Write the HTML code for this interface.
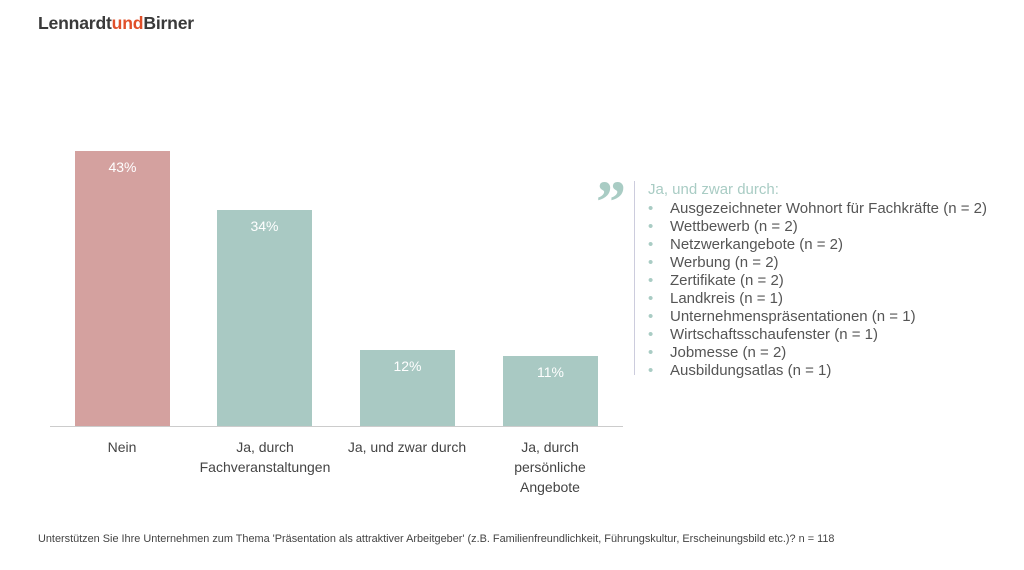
<!DOCTYPE html>
<html><head><meta charset="utf-8"><style>
body{margin:0;width:1024px;height:570px;background:#fff;position:relative;overflow:hidden;font-family:"Liberation Sans",sans-serif;color:#444}
.a{position:absolute}
.bar{position:absolute;width:95px}
.v{position:absolute;width:95px;text-align:center;color:#fff;font-size:14px}
.c{position:absolute;text-align:center;font-size:14px;line-height:20px;color:#444;width:160px}
.li{position:absolute;left:648px;font-size:15px;line-height:18px;color:#555}
.li b{font-weight:normal;color:#a9ccc4;display:inline-block;width:22px}
</style></head><body>
<div class="a" style="left:38px;top:13px;font-size:17.6px;font-weight:bold;color:#3a3a3a;letter-spacing:-0.2px">Lennardt<span style="color:#e0502a">und</span>Birner</div>

<div class="bar" style="left:75px;top:151px;height:276px;background:#d4a19f"></div>
<div class="bar" style="left:217px;top:210px;height:217px;background:#a9c9c3"></div>
<div class="bar" style="left:360px;top:350px;height:77px;background:#a9c9c3"></div>
<div class="bar" style="left:503px;top:356px;height:71px;background:#a9c9c3"></div>
<div class="a" style="left:50px;top:426px;width:573px;height:1px;background:#ccc"></div>

<div class="v" style="left:75px;top:159px">43%</div>
<div class="v" style="left:217px;top:218px">34%</div>
<div class="v" style="left:360px;top:358px">12%</div>
<div class="v" style="left:503px;top:364px">11%</div>

<div class="c" style="left:42px;top:437px">Nein</div>
<div class="c" style="left:185px;top:437px">Ja, durch<br>Fachveranstaltungen</div>
<div class="c" style="left:327px;top:437px">Ja, und zwar durch</div>
<div class="c" style="left:470px;top:437px">Ja, durch<br>persönliche<br>Angebote</div>

<div class="a" style="left:596px;top:172px;font-size:60px;font-weight:bold;color:#a9ccc4;font-family:'Liberation Serif',serif;line-height:60px">”</div>
<div class="a" style="left:634px;top:181px;width:1px;height:194px;background:#ccd"></div>
<div class="a" style="left:648px;top:181px;font-size:15px;line-height:18px;color:#a9ccc4">Ja, und zwar durch:</div>
<div class="li" style="top:200px"><b>•</b>Ausgezeichneter Wohnort für Fachkräfte (n = 2)</div>
<div class="li" style="top:218px"><b>•</b>Wettbewerb (n = 2)</div>
<div class="li" style="top:236px"><b>•</b>Netzwerkangebote (n = 2)</div>
<div class="li" style="top:254px"><b>•</b>Werbung (n = 2)</div>
<div class="li" style="top:272px"><b>•</b>Zertifikate (n = 2)</div>
<div class="li" style="top:290px"><b>•</b>Landkreis (n = 1)</div>
<div class="li" style="top:308px"><b>•</b>Unternehmenspräsentationen (n = 1)</div>
<div class="li" style="top:326px"><b>•</b>Wirtschaftsschaufenster (n = 1)</div>
<div class="li" style="top:344px"><b>•</b>Jobmesse (n = 2)</div>
<div class="li" style="top:362px"><b>•</b>Ausbildungsatlas (n = 1)</div>

<div class="a" style="left:38px;top:533px;font-size:10.9px;color:#444">Unterstützen Sie Ihre Unternehmen zum Thema 'Präsentation als attraktiver Arbeitgeber' (z.B. Familienfreundlichkeit, Führungskultur, Erscheinungsbild etc.)? n = 118</div>
</body></html>
